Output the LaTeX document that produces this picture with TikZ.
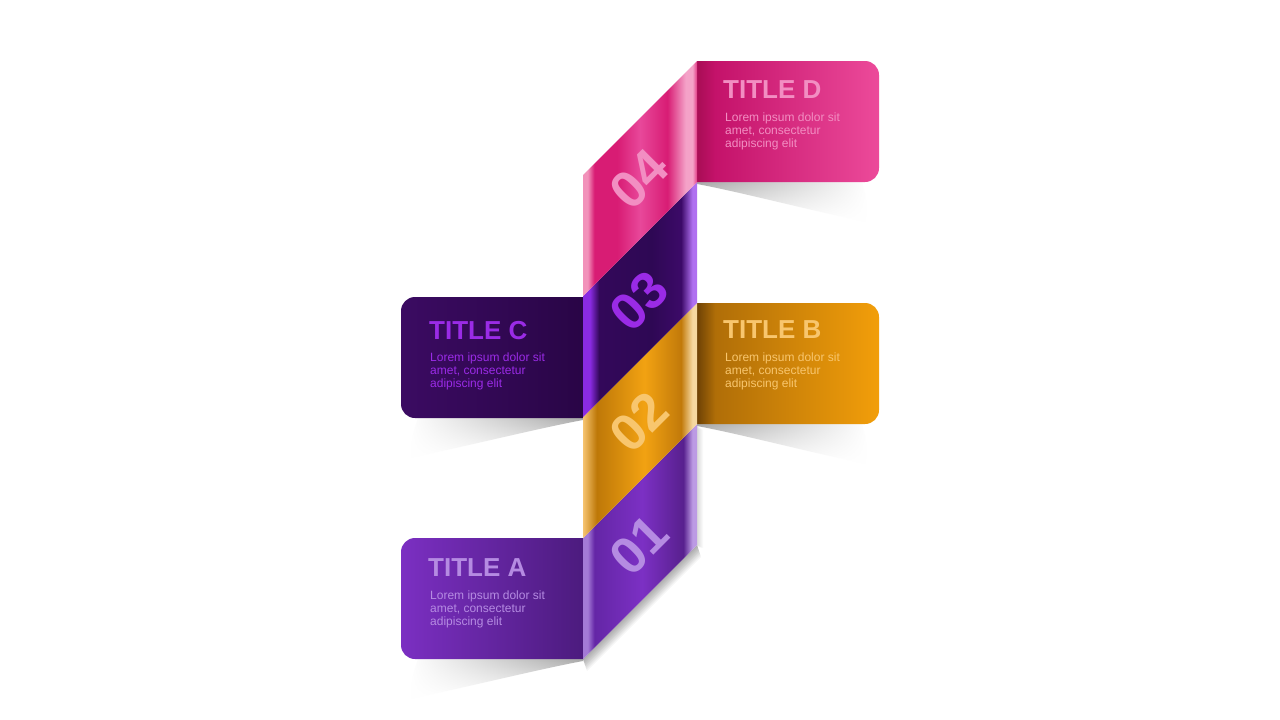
\documentclass[tikz,border=0pt]{standalone}
\usepackage{fontspec}
\setmainfont{Liberation Sans}
\usetikzlibrary{fadings}

\definecolor{shadowgray}{HTML}{A8A8A8}
% boxes
\definecolor{aL}{HTML}{7B2FC2}\definecolor{aR}{HTML}{4C1B7E}
\definecolor{cL}{HTML}{3B0B62}\definecolor{cR}{HTML}{290546}
\definecolor{bA}{HTML}{6E4205}\definecolor{bB}{HTML}{B06E08}\definecolor{bC}{HTML}{F29E0A}
\definecolor{dA}{HTML}{A80D55}\definecolor{dB}{HTML}{C4126A}\definecolor{dC}{HTML}{EC4A9A}
% texts
\definecolor{txtA}{HTML}{B58BE2}
\definecolor{txtC}{HTML}{9A2BE6}
\definecolor{txtB}{HTML}{F8C66E}
\definecolor{txtD}{HTML}{F28EC2}
% strip segments
\definecolor{s1a}{HTML}{A47AD6}\definecolor{s1b}{HTML}{6426A6}\definecolor{s1c}{HTML}{7C30C4}
\definecolor{s1d}{HTML}{58208E}\definecolor{s1e}{HTML}{BC9AE4}
\definecolor{s2a}{HTML}{F6C470}\definecolor{s2b}{HTML}{BE7808}\definecolor{s2c}{HTML}{F2A212}
\definecolor{s2d}{HTML}{C27A0A}\definecolor{s2e}{HTML}{F6D8A0}
\definecolor{s3a}{HTML}{8A2BE2}\definecolor{s3b}{HTML}{33085A}\definecolor{s3c}{HTML}{2E0854}
\definecolor{s3d}{HTML}{3C0A68}\definecolor{s3e}{HTML}{B070F0}
\definecolor{s4a}{HTML}{F292BA}\definecolor{s4b}{HTML}{D81C74}\definecolor{s4c}{HTML}{E8489A}
\definecolor{s4d}{HTML}{F4A2C8}\definecolor{s4e}{HTML}{E23A86}

\pgfdeclarehorizontalshading{boxA}{100bp}{color(0bp)=(aL); color(25bp)=(aL); color(75bp)=(aR); color(100bp)=(aR)}
\pgfdeclarehorizontalshading{boxC}{100bp}{color(0bp)=(cL); color(25bp)=(cL); color(75bp)=(cR); color(100bp)=(cR)}
\pgfdeclarehorizontalshading{boxB}{100bp}{color(0bp)=(bA); color(25bp)=(bA); color(30bp)=(bB); color(75bp)=(bC); color(100bp)=(bC)}
\pgfdeclarehorizontalshading{boxD}{100bp}{color(0bp)=(dA); color(25bp)=(dA); color(30bp)=(dB); color(75bp)=(dC); color(100bp)=(dC)}

\pgfdeclarehorizontalshading{segA}{100bp}{color(0bp)=(s1a); color(25bp)=(s1a); color(27bp)=(s1a); color(30bp)=(s1b); color(51bp)=(s1c); color(69bp)=(s1d); color(73bp)=(s1e); color(75bp)=(s1e); color(100bp)=(s1e)}
\pgfdeclarehorizontalshading{segB}{100bp}{color(0bp)=(s2a); color(25bp)=(s2a); color(31bp)=(s2b); color(52bp)=(s2c); color(68bp)=(s2d); color(73bp)=(s2e); color(75bp)=(s2e); color(100bp)=(s2e)}
\pgfdeclarehorizontalshading{segC}{100bp}{color(0bp)=(s3a); color(25bp)=(s3a); color(28bp)=(s3a); color(32bp)=(s3b); color(55bp)=(s3c); color(68bp)=(s3d); color(73bp)=(s3e); color(75bp)=(s3e); color(100bp)=(s3e)}
\pgfdeclarehorizontalshading{segD}{100bp}{color(0bp)=(s4a); color(25bp)=(s4a); color(27bp)=(s4a); color(30bp)=(s4b); color(40bp)=(s4b); color(50bp)=(s4c); color(62bp)=(s4b); color(70bp)=(s4d); color(73bp)=(s4d); color(75bp)=(s4e); color(100bp)=(s4e)}

\tikzfading[name=fadeR, left color=transparent!0, right color=transparent!100]
\tikzfading[name=fadeL, left color=transparent!100, right color=transparent!0]

\tikzset{
  title/.style={anchor=base west, inner sep=0pt, font=\fontsize{26}{28}\selectfont\bfseries},
  body/.style={anchor=north west, inner sep=0pt, align=left, font=\fontsize{12}{13}\selectfont},
  num/.style={rotate=45, inner sep=0pt, font=\fontsize{52}{52}\selectfont\bfseries},
}

\begin{document}
\begin{tikzpicture}[x=1pt,y=-1pt]
  \useasboundingbox[fill=white] (0,0) rectangle (1280,720);

  % shadows under the boxes
  \shade[top color=shadowgray, bottom color=white, path fading=fadeR]
    (697,182) -- (862,182) .. controls (867,200) .. (866,222) .. controls (800,208) and (740,192) .. (697,184) -- cycle;
  \shade[top color=shadowgray, bottom color=white, path fading=fadeR]
    (697,424) -- (862,424) .. controls (867,442) .. (866,464) .. controls (800,450) and (740,434) .. (697,426) -- cycle;
  \shade[top color=shadowgray, bottom color=white, path fading=fadeL]
    (583,418) -- (418,418) .. controls (412,436) .. (410,458) .. controls (476,444) and (540,428) .. (583,420) -- cycle;
  \shade[top color=shadowgray, bottom color=white, path fading=fadeL]
    (583,659) -- (418,659) .. controls (412,677) .. (410,699) .. controls (476,685) and (540,669) .. (583,661) -- cycle;

  % shadow of the strip
  \foreach \d in {1,...,10}
    \fill[black, opacity=0.035] (697,545) -- (697+0.4*\d,545+1.2*\d) -- (583+0.4*\d,659+1.2*\d) -- (583,659) -- cycle;
  \foreach \d in {1,...,6}
    \fill[black, opacity=0.025] (697,426) -- (697+\d,430) -- (697+\d,548) -- (697,545) -- cycle;

  % boxes
  \begin{scope}
    \clip[rounded corners=14pt] (401,538) rectangle (620,659);
    \shade[shading=boxA] (401,538) rectangle (583,659);
  \end{scope}
  \begin{scope}
    \clip[rounded corners=14pt] (401,297) rectangle (620,418);
    \shade[shading=boxC] (401,297) rectangle (583,418);
  \end{scope}
  \begin{scope}
    \clip[rounded corners=14pt] (660,303) rectangle (879,424);
    \shade[shading=boxB] (697,303) rectangle (879,424);
  \end{scope}
  \begin{scope}
    \clip[rounded corners=14pt] (660,61) rectangle (879,182);
    \shade[shading=boxD] (697,61) rectangle (879,182);
  \end{scope}

  % strip
  \shade[shading=segA] (583,538) -- (697,424) -- (697,545) -- (583,659) -- cycle;
  \shade[shading=segB] (583,417) -- (697,303) -- (697,424) -- (583,538) -- cycle;
  \shade[shading=segC] (583,296) -- (697,182) -- (697,303) -- (583,417) -- cycle;
  \shade[shading=segD] (583,175) -- (697,61) -- (697,182) -- (583,296) -- cycle;

  % numbers
  \node[num, text=txtA] (numA) at (639,545) {01};
  \node[num, text=txtB] (numB) at (639,422) {02};
  \node[num, text=txtC] (numC) at (639,301) {03};
  \node[num, text=txtD] (numD) at (639,179) {04};

  % titles and texts
  \node[title, text=txtA] (titleA) at (428,576) {TITLE A};
  \node[body, text=txtA] (textA) at (430,591) {Lorem ipsum dolor sit\\amet, consectetur\\adipiscing elit};
  \node[title, text=txtB] (titleB) at (723,338) {TITLE B};
  \node[body, text=txtB] (textB) at (725,353) {Lorem ipsum dolor sit\\amet, consectetur\\adipiscing elit};
  \node[title, text=txtC] (titleC) at (429,339) {TITLE C};
  \node[body, text=txtC] (textC) at (430,353) {Lorem ipsum dolor sit\\amet, consectetur\\adipiscing elit};
  \node[title, text=txtD] (titleD) at (723,98) {TITLE D};
  \node[body, text=txtD] (textD) at (725,113) {Lorem ipsum dolor sit\\amet, consectetur\\adipiscing elit};
\end{tikzpicture}
\end{document}
